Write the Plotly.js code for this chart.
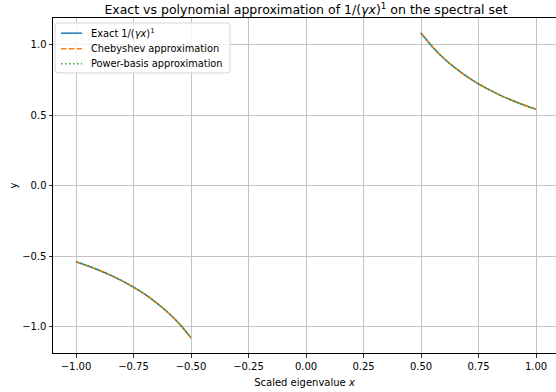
<!DOCTYPE html>
<html>
<head>
<meta charset="utf-8">
<script src="https://cdn.plot.ly/plotly-3.0.1.min.js"></script>
<style>
  html, body { margin: 0; padding: 0; background: #fff; }
  #chart { width: 556px; height: 392px; }
</style>
</head>
<body>
<div id="chart"></div>
<script>
// Spectral set: two intervals of scaled eigenvalues, [-1, -0.5] and [0.5, 1]
const xNeg = [-1.00, -0.95, -0.90, -0.85, -0.80, -0.75, -0.70, -0.65, -0.60, -0.55, -0.50];
const xPos = [0.50, 0.55, 0.60, 0.65, 0.70, 0.75, 0.80, 0.85, 0.90, 0.95, 1.00];

// Exact 1/(γx) on each interval
const exactNeg = [-0.541, -0.569, -0.601, -0.636, -0.676, -0.721, -0.772, -0.832, -0.901, -0.983, -1.081];
const exactPos = [1.081, 0.983, 0.901, 0.832, 0.772, 0.721, 0.676, 0.636, 0.601, 0.569, 0.541];

// Polynomial approximations (visually identical to the exact curve)
const chebNeg = [-0.541, -0.569, -0.601, -0.636, -0.676, -0.721, -0.772, -0.832, -0.901, -0.983, -1.081];
const chebPos = [1.081, 0.983, 0.901, 0.832, 0.772, 0.721, 0.676, 0.636, 0.601, 0.569, 0.541];
const powNeg = [-0.541, -0.569, -0.601, -0.636, -0.676, -0.721, -0.772, -0.832, -0.901, -0.983, -1.081];
const powPos = [1.081, 0.983, 0.901, 0.832, 0.772, 0.721, 0.676, 0.636, 0.601, 0.569, 0.541];

const xTicks = [-1.00, -0.75, -0.50, -0.25, 0.00, 0.25, 0.50, 0.75, 1.00];
const yTicks = [-1.0, -0.5, 0.0, 0.5, 1.0];

const seriesNames = ['Exact 1/(<i>γx</i>)<sup>1</sup>', 'Chebyshev approximation', 'Power-basis approximation'];
const seriesColors = ['#1f77b4', '#ff7f0e', '#2ca02c'];
const seriesDash = ['solid', '5.5px,2.4px', '1.5px,2.5px'];

const FONT = 'DejaVu Sans, Liberation Sans, sans-serif';
const W = 556, H = 392;
const L = 53, T = 17.5, B = 353;

// pixel -> paper helpers for the hand-placed legend
const px = x => (x - L) / (W - L);
const py = y => (B - y) / (B - T);

function branch(x, y, i) {
  return {
    x: x, y: y, type: 'scatter', mode: 'lines',
    line: { color: seriesColors[i], width: 1.5, dash: seriesDash[i], shape: 'spline' },
    name: seriesNames[i], showlegend: false, hoverinfo: 'skip'
  };
}

const traces = [
  branch(xNeg, exactNeg, 0), branch(xPos, exactPos, 0),
  branch(xNeg, chebNeg, 1), branch(xPos, chebPos, 1),
  branch(xNeg, powNeg, 2), branch(xPos, powPos, 2)
];

// legend box with rounded corners
const bx0 = px(55), bx1 = px(230), by0 = py(22.5), by1 = py(72.5);
const r = 3;
const rx = r / (W - L), ry = r / (B - T);
const boxPath = `M ${bx0 + rx},${by0} L ${bx1 - rx},${by0} Q ${bx1},${by0} ${bx1},${by0 - ry} ` +
  `L ${bx1},${by1 + ry} Q ${bx1},${by1} ${bx1 - rx},${by1} L ${bx0 + rx},${by1} ` +
  `Q ${bx0},${by1} ${bx0},${by1 + ry} L ${bx0},${by0 - ry} Q ${bx0},${by0} ${bx0 + rx},${by0} Z`;

const shapes = [
  { type: 'path', xref: 'paper', yref: 'paper', path: boxPath,
    fillcolor: 'rgba(255,255,255,0.8)', line: { color: '#d6d6d6', width: 1 } }
];
const annotations = [];
const rowY = [32.7, 48.3, 63.3];
seriesNames.forEach((n, i) => {
  shapes.push({ type: 'line', xref: 'paper', yref: 'paper',
    x0: px(61), x1: px(82), y0: py(rowY[i]), y1: py(rowY[i]),
    line: { color: seriesColors[i], width: 1.5, dash: seriesDash[i] } });
  annotations.push({ xref: 'paper', yref: 'paper', x: px(89), y: py(rowY[i]),
    xanchor: 'left', yanchor: 'middle', showarrow: false, text: n,
    font: { family: FONT, size: 9.8, color: '#000' } });
});

const layout = {
  width: W, height: H,
  margin: { l: L, r: 0, t: T, b: H - B },
  paper_bgcolor: '#fff', plot_bgcolor: '#fff',
  font: { family: FONT, color: '#000', size: 10 },
  title: {
    text: 'Exact vs polynomial approximation of 1/(<i>γx</i>)<sup>1</sup> on the spectral set',
    font: { family: FONT, size: 12.5, color: '#000' },
    xref: 'paper', x: 0.503, xanchor: 'center',
    yref: 'container', y: 1 - 9.5 / H, yanchor: 'middle'
  },
  xaxis: {
    range: [-1.1, -1.1 + (W - L) / 230],
    tickvals: xTicks, tickformat: '.2f',
    ticks: 'outside', ticklen: 3.5, tickwidth: 0.8, tickcolor: '#000',
    tickfont: { family: FONT, size: 10, color: '#000' },
    showgrid: true, gridcolor: '#c4c4c4', gridwidth: 1,
    zeroline: false, showline: true, linecolor: '#000', linewidth: 1, mirror: true,
    title: { text: 'Scaled eigenvalue <i>x</i>', font: { family: FONT, size: 10, color: '#000' }, standoff: 8 }
  },
  yaxis: {
    range: [-1.188, 1.188],
    tickvals: yTicks, tickformat: '.1f',
    ticks: 'outside', ticklen: 3.5, tickwidth: 0.8, tickcolor: '#000',
    tickfont: { family: FONT, size: 10, color: '#000' },
    showgrid: true, gridcolor: '#c4c4c4', gridwidth: 1,
    zeroline: false, showline: true, linecolor: '#000', linewidth: 1,
    title: { text: 'y', font: { family: FONT, size: 10, color: '#000' }, standoff: 2 }
  },
  shapes: shapes,
  annotations: annotations,
  showlegend: false
};

Plotly.newPlot('chart', traces, layout, { staticPlot: true, displayModeBar: false });
</script>
</body>
</html>
